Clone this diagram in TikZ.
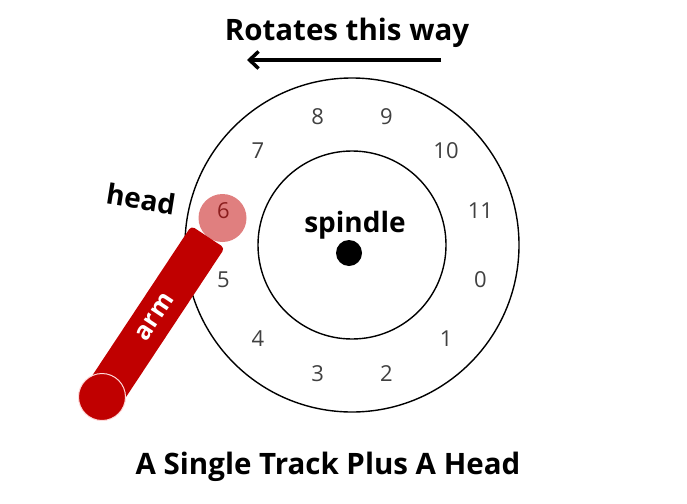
\documentclass[tikz,border=0pt]{standalone}
\usepackage{fontspec}
\setmainfont{Open Sans}
\usetikzlibrary{arrows.meta}
\definecolor{armred}{HTML}{C00000}
\definecolor{headred}{HTML}{E07F7F}
\definecolor{numgray}{HTML}{404040}
\definecolor{sixred}{HTML}{8B1E1E}
\begin{document}
\begin{tikzpicture}[x=1pt,y=-1pt,
  ringline/.style={draw=black, line width=1.4pt, circle, inner sep=0pt},
  numlabel/.style={font=\fontsize{22}{22}\selectfont, text=numgray, inner sep=0pt},
  titlelabel/.style={font=\fontsize{29.5}{30}\selectfont\bfseries, inner sep=0pt},
  boldlabel/.style={font=\fontsize{28}{28}\selectfont\bfseries, inner sep=0pt}]
\useasboundingbox (0,0) rectangle (687,503);
% title and arrow
\node[titlelabel] (title) at (347,33) {Rotates this way};
\coordinate (arrS) at (441,60);
\coordinate (arrE) at (247,60);
\draw[line width=3.5pt, -{Straight Barb[length=9pt,width=17pt]}] (arrS) -- (arrE);
% disk
\node[ringline, minimum size=334pt] (outer) at (352,245) {};
\node[ringline, minimum size=188pt] (inner) at (352,245) {};
\node[circle, fill=black, minimum size=26pt, inner sep=0pt] (dot) at (349,253) {};
\node[boldlabel] (spindle) at (355,225) {spindle};
% sector numbers
\foreach \k in {0,1,2,3,4,5,7,8,9,10,11}{
  \pgfmathsetmacro{\ang}{30*\k+15}
  \path (352,245) ++(\ang:133) node[numlabel] (n\k) {\k};
}
% head
\node[circle, fill=headred, minimum size=48pt, inner sep=0pt] (headc) at (222.5,218) {};
\path (352,245) ++(195:133) node[numlabel, text=sixred] (n6) {6};
\node[boldlabel, rotate=-9] (headlbl) at (141,199) {head};
% arm
\node[fill=armred, rounded corners=4pt, minimum width=192pt, minimum height=40pt,
      rotate=56.5, inner sep=0pt, text=white, font=\fontsize{25}{25}\selectfont\bfseries] (arm) at (155,317) {arm};
\node[circle, fill=armred, draw=white!85!red, line width=1pt, minimum size=47pt, inner sep=0pt] (armend) at (102,397) {};
% caption
\node[titlelabel] (caption) at (328,467) {A Single Track Plus A Head};
\end{tikzpicture}
\end{document}
